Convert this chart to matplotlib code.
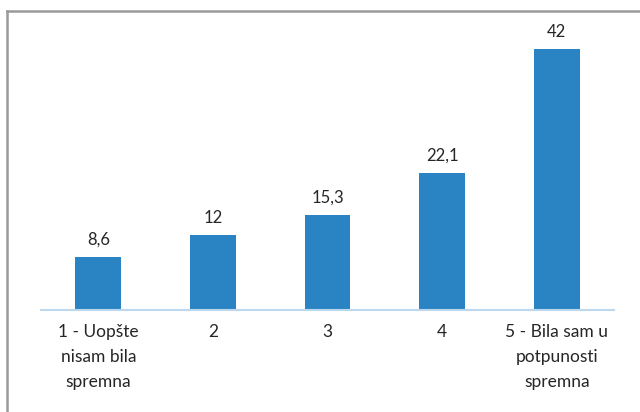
import matplotlib
matplotlib.use("Agg")
import matplotlib.pyplot as plt
from matplotlib.lines import Line2D

categories = ["1 - Uopšte\nnisam bila\nspremna", "2", "3", "4",
              "5 - Bila sam u\npotpunosti\nspremna"]
values = [8.6, 12, 15.3, 22.1, 42]
value_labels = ["8,6", "12", "15,3", "22,1", "42"]

plt.rcParams['font.family'] = ['Lato', 'DejaVu Sans']


def main():
    fig = plt.figure(figsize=(6.4, 4.12), dpi=100)
    ax = fig.add_axes([41 / 640, 102 / 412, 573 / 640, 279.5 / 412])

    x = range(len(values))
    bars = ax.bar(x, values, width=0.4, color="#2A84C4", zorder=2)
    for b, lab in zip(bars, value_labels):
        ax.text(b.get_x() + b.get_width() / 2, b.get_height() + 1.5, lab,
                ha="center", va="bottom", fontsize=12, color="#262626")

    ax.set_xlim(-0.5, len(values) - 0.5)
    ax.set_ylim(0, 45)
    ax.set_yticks([])
    ax.set_xticks(list(x))
    ax.set_xticklabels(categories, fontsize=12.5, color="#262626",
                       linespacing=1.68)
    ax.tick_params(axis="x", length=0, pad=10)
    for s in ["top", "right", "left"]:
        ax.spines[s].set_visible(False)
    ax.spines["bottom"].set_color("#BDD7EE")
    ax.spines["bottom"].set_linewidth(1.5)

    # outer frame (top and left edges visible)
    y0 = 1 - 11 / 412
    x0 = 7 / 640
    fig.add_artist(Line2D([x0, 1], [y0, y0], transform=fig.transFigure,
                          color="#9A9A9A", lw=1.8))
    fig.add_artist(Line2D([x0, x0], [0, y0], transform=fig.transFigure,
                          color="#9A9A9A", lw=1.8))

    fig.savefig("out.png", dpi=100)


if __name__ == '__main__':
    main()
